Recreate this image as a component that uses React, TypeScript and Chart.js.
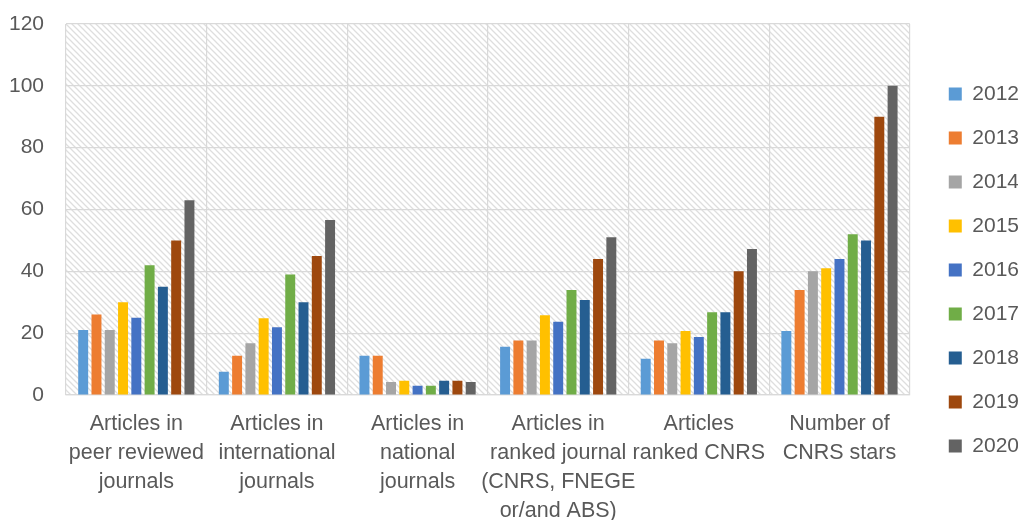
import React, { useEffect, useRef } from "react";
import { Chart, registerables } from "chart.js";

Chart.register(...registerables);

const categories: string[][] = [
  ["Articles in", "peer reviewed", "journals"],
  ["Articles in", "international", "journals"],
  ["Articles in", "national", "journals"],
  ["Articles in", "ranked journal", "(CNRS, FNEGE", "or/and ABS)"],
  ["Articles", "ranked CNRS"],
  ["Number of", "CNRS stars"],
];

const years = ["2012", "2013", "2014", "2015", "2016", "2017", "2018", "2019", "2020"];

const v2012 = [21, 7.5, 12.7, 15.6, 11.7, 20.7];
const v2013 = [26, 12.7, 12.7, 17.6, 17.6, 34];
const v2014 = [21, 16.7, 4.2, 17.6, 16.7, 40];
const v2015 = [30, 24.8, 4.6, 25.8, 20.7, 41];
const v2016 = [25, 21.9, 3, 23.7, 18.8, 44];
const v2017 = [42, 39, 3, 34, 26.8, 52];
const v2018 = [35, 30, 4.6, 30.7, 26.8, 50];
const v2019 = [50, 45, 4.6, 44, 40, 90];
const v2020 = [63, 56.6, 4.2, 51, 47.2, 100];

const seriesValues = [v2012, v2013, v2014, v2015, v2016, v2017, v2018, v2019, v2020];

const colors = [
  "#5B9BD5",
  "#ED7D31",
  "#A5A5A5",
  "#FFC000",
  "#4472C4",
  "#70AD47",
  "#255E91",
  "#9E480E",
  "#636363",
];

const yMin = 0;
const yMax = 120;
const yStep = 20;

const FONT = "'Liberation Sans', Arial, sans-serif";
const TEXT_COLOR = "#595959";
const GRID_COLOR = "#d9d9d9";

function makePattern(ctx: CanvasRenderingContext2D): CanvasPattern | string {
  const s = 6;
  const c = document.createElement("canvas");
  c.width = s;
  c.height = s;
  const p = c.getContext("2d");
  if (!p) return "#f4f4f4";
  p.fillStyle = "#ffffff";
  p.fillRect(0, 0, s, s);
  p.strokeStyle = "#dedede";
  p.lineWidth = 1.3;
  p.beginPath();
  p.moveTo(0, 0);
  p.lineTo(s, s);
  p.moveTo(s - 1, -1);
  p.lineTo(s + 1, 1);
  p.moveTo(-1, s - 1);
  p.lineTo(1, s + 1);
  p.stroke();
  return ctx.createPattern(c, "repeat") || "#f4f4f4";
}

const hatchPlugin = {
  id: "hatchBg",
  beforeDraw(chart: any) {
    const { ctx, chartArea } = chart;
    if (!chartArea) return;
    ctx.save();
    ctx.fillStyle = makePattern(ctx);
    ctx.fillRect(chartArea.left, chartArea.top, chartArea.right - chartArea.left, chartArea.bottom - chartArea.top);
    ctx.restore();
  },
};

const legendShift = {
  id: "legendShift",
  afterLayout(chart: any) {
    const lg = chart.legend;
    if (lg) {
      lg.left += 16;
      lg.right += 16;
      lg.top -= 2;
      lg.bottom -= 2;
    }
  },
};

export default function App() {
  const ref = useRef<HTMLCanvasElement | null>(null);

  useEffect(() => {
    if (!ref.current) return;
    const chart = new Chart(ref.current, {
      type: "bar",
      data: {
        labels: categories,
        datasets: years.map((y, i) => ({
          label: y,
          data: seriesValues[i],
          backgroundColor: colors[i],
          borderWidth: 0,
          categoryPercentage: 0.85,
          barPercentage: 0.75,
        })),
      },
      options: {
        animation: false,
        responsive: false,
        maintainAspectRatio: false,
        layout: { padding: { top: 24, left: 0, right: 5, bottom: 0 } },
        plugins: {
          tooltip: { enabled: false },
          legend: {
            position: "right",
            align: "center",
            labels: {
              boxWidth: 13,
              boxHeight: 13,
              padding: 23,
              color: TEXT_COLOR,
              font: { family: FONT, size: 21 },
            },
          },
        },
        scales: {
          x: {
            offset: true,
            grid: { display: true, color: GRID_COLOR, lineWidth: 1.2, drawTicks: false, offset: true },
            border: { display: true, color: GRID_COLOR, width: 1.2 },
            ticks: {
              color: TEXT_COLOR,
              padding: 15,
              maxRotation: 0,
              autoSkip: false,
              font: { family: FONT, size: 21.5, lineHeight: 29 / 21.5 },
            },
            afterFit: (scale: any) => {
              scale.height = 125;
            },
          },
          y: {
            min: yMin,
            max: yMax,
            grid: { color: GRID_COLOR, lineWidth: 1.2, drawTicks: false },
            border: { display: false },
            ticks: {
              stepSize: yStep,
              color: TEXT_COLOR,
              padding: 22,
              font: { family: FONT, size: 21 },
            },
            afterFit: (scale: any) => {
              scale.width = 66;
              scale.paddingTop = 0;
              scale.paddingBottom = 0;
            },
          },
        },
      },
      plugins: [hatchPlugin, legendShift],
    });
    return () => chart.destroy();
  }, []);

  return (
    <div style={{ position: "absolute", left: 0, top: 0, width: 1018, height: 520, background: "#ffffff", overflow: "hidden" }}>
      <canvas ref={ref} width={1018} height={520} style={{ width: 1018, height: 520, display: "block" }} />
    </div>
  );
}
